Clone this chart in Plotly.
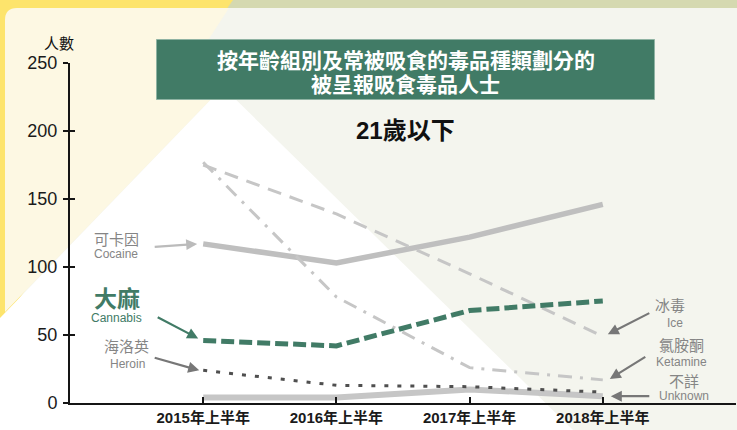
import plotly.graph_objects as go

# ---- data ----
categories = ["2015年上半年", "2016年上半年", "2017年上半年", "2018年上半年"]
cocaine = [117, 103, 122, 146]
ice = [175, 139, 95, 49]
ketamine = [177, 78, 26, 17]
cannabis = [46, 42, 68, 75]
heroin = [24, 13, 12, 8]
unknown = [4, 4, 10, 5]
y_ticks = [0, 50, 100, 150, 200, 250]

W, H = 737, 430
L, R, T, B = 70, 1, 63, 27
PW, PH = W - L - R, H - T - B
xpos = list(range(len(categories)))

def px(x):
    return (x - L) / PW

def py(y):
    return (H - B - y) / PH

FONT = "Liberation Sans, Arial, Noto Sans CJK TC, sans-serif"
GREEN = "#417b66"
LGRAY = "#c6c6c6"
LABEL = "#858585"

fig = go.Figure()

def add_line(vals, color, width, dash, name):
    fig.add_trace(go.Scatter(x=xpos, y=vals, mode="lines", name=name,
                             line=dict(color=color, width=width, dash=dash),
                             showlegend=False, hoverinfo="skip"))

add_line(unknown, LGRAY, 6, "solid", "不詳")
add_line(cocaine, "#bfbfbf", 5.5, "solid", "可卡因")
add_line(ice, LGRAY, 3, "14px,9px", "冰毒")
add_line(ketamine, LGRAY, 3, "14px,8px,3px,8px", "氯胺酮")
add_line(heroin, "#4f4f4f", 3, "4px,9px", "海洛英")
add_line(cannabis, GREEN, 5, "13px,5px", "大麻")

# dummy trace for inner y ticks axis
fig.add_trace(go.Scatter(x=[xpos[0]], y=[0], yaxis="y2", mode="markers",
                         marker=dict(size=0.1, opacity=0), showlegend=False,
                         hoverinfo="skip"))

shapes = []
shapes.append(dict(type="rect", xref="paper", yref="paper",
                   x0=px(0), x1=px(W), y0=py(8), y1=py(0),
                   fillcolor="#d5d9b0", line=dict(width=0), layer="below"))
shapes.append(dict(type="path", xref="paper", yref="paper",
                   path=f"M {px(0)},{py(0)} L {px(233)},{py(0)} L {px(120)},{py(160)} L {px(0)},{py(325)} Z",
                   fillcolor="#fde46c", line=dict(width=0), layer="below"))
shapes.append(dict(type="path", xref="paper", yref="paper",
                   path=(f"M {px(5)},{py(20)} Q {px(5)},{py(8)} {px(17)},{py(8)} "
                         f"L {px(229)},{py(8)} L {px(205)},{py(45)} L {px(223)},{py(87)} "
                         f"L {px(5)},{py(312)} Z"),
                   fillcolor="#fdf8e3", line=dict(width=0), layer="below"))
shapes.append(dict(type="path", xref="paper", yref="paper",
                   path=(f"M {px(223)},{py(87)} L {px(0)},{py(318)} L {px(0)},{py(H)} "
                         f"L {px(573)},{py(H)} Z"),
                   fillcolor="#ffffff", line=dict(width=0), layer="below"))
shapes.append(dict(type="rect", xref="paper", yref="paper",
                   x0=px(156.5), x1=px(654.5), y0=py(99.5), y1=py(39.5),
                   fillcolor=GREEN, line=dict(color="#8fb3a3", width=1), layer="below"))

ann = []
def text(x, y, s, size, color, bold=False, family=FONT):
    ann.append(dict(xref="paper", yref="paper", x=px(x), y=py(y), text=(f"<b>{s}</b>" if bold else s),
                    showarrow=False, xanchor="center", yanchor="middle",
                    font=dict(size=size, color=color, family=family)))

text(406, 60.5, "按年齡組別及常被吸食的毒品種類劃分的", 21, "#ffffff", True)
text(405, 84, "被呈報吸食毒品人士", 21, "#ffffff", True)
text(405, 130, "21歲以下", 24, "#111111", True)
text(58.5, 43, "人數", 15, "#111111")

text(116.5, 240, "可卡因", 15, LABEL)
text(116, 253.5, "Cocaine", 12, LABEL)
text(116.5, 298.5, "大麻", 23, GREEN, True)
text(116.5, 317.5, "Cannabis", 12, GREEN)
text(126.5, 346, "海洛英", 15, LABEL)
text(127.5, 363.5, "Heroin", 12, LABEL)
text(669.5, 305.5, "冰毒", 15, LABEL)
text(675, 322.5, "Ice", 12, LABEL)
text(681.5, 345.5, "氯胺酮", 15, LABEL)
text(681.5, 362, "Ketamine", 12, LABEL)
text(683.5, 381, "不詳", 15, LABEL)
text(683.5, 396, "Unknown", 12, LABEL)

def arrow(i, vals, xshift, yshift, ax, ay, color):
    ann.append(dict(xref="x", yref="y", x=xpos[i], y=vals[i], text="",
                    showarrow=True, arrowhead=2, arrowsize=1, arrowwidth=2.2,
                    arrowcolor=color, ax=ax, ay=ay, xshift=xshift, yshift=yshift,
                    standoff=0, startstandoff=0))

arrow(0, cocaine, -6, 0, -44, 3, "#bbbbbb")
arrow(0, cannabis, -5, 2, -42, -22, GREEN)
arrow(0, heroin, -4, 0, -46, -13, "#777777")
arrow(3, ice, 5, 2, 43, -22, "#777777")
arrow(3, ketamine, 7, 1, 37, -23, "#777777")
arrow(3, unknown, 8, 0, 40, 0, "#777777")

fig.update_layout(
    width=W, height=H,
    margin=dict(l=L, r=R, t=T, b=B, pad=0),
    paper_bgcolor="#f4f5ee",
    plot_bgcolor="rgba(0,0,0,0)",
    shapes=shapes, annotations=ann,
    showlegend=False,
    xaxis=dict(range=[-1, 4], tickvals=xpos + [4], ticktext=categories + [""],
               showgrid=False, zeroline=False, showline=True, linecolor="#151515",
               linewidth=2, ticks="inside", ticklen=6, tickwidth=1.5, tickcolor="#151515",
               tickfont=dict(size=15, color="#1a1a1a", family=FONT, weight="bold"),
               fixedrange=True),
    yaxis=dict(range=[0, 250], tickvals=y_ticks, showgrid=False, zeroline=False,
               showline=True, linecolor="#151515", linewidth=2, ticks="outside",
               ticklen=5, tickwidth=2, tickcolor="#151515",
               tickfont=dict(size=18, color="#1a1a1a", family=FONT),
               ticklabelstandoff=2, fixedrange=True),
    yaxis2=dict(range=[0, 250], overlaying="y", side="left", tickvals=y_ticks,
                showticklabels=False, showgrid=False, zeroline=False, showline=False,
                ticks="inside", ticklen=5, tickwidth=2, tickcolor="#151515",
                fixedrange=True),
)

fig.write_html("out.html", config={"displayModeBar": False},
               post_script="document.body.style.margin='0';document.body.style.overflow='hidden';")
